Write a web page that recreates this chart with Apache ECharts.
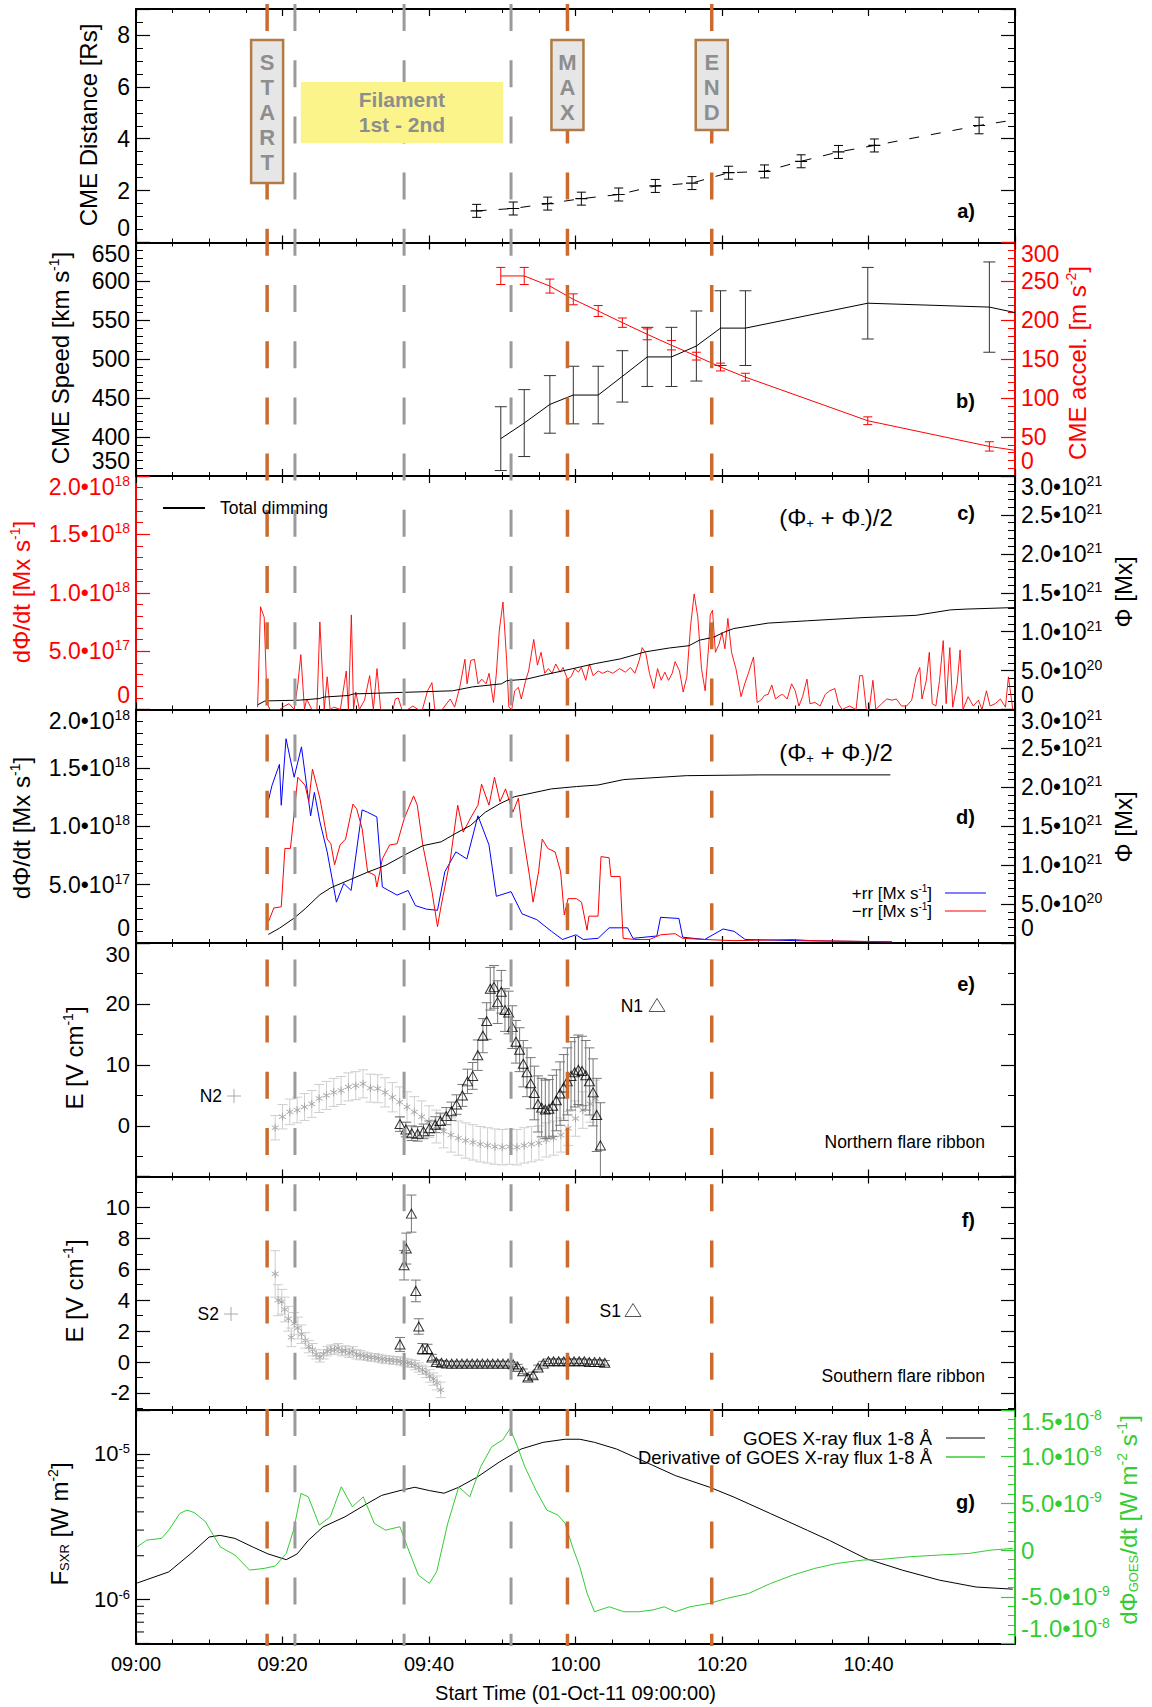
<!DOCTYPE html>
<html>
<head>
<meta charset="utf-8">
<script src="https://cdn.jsdelivr.net/npm/echarts@6/dist/echarts.min.js"></script>
<style>
  html, body { margin: 0; padding: 0; background: #fff; }
  #main { width: 1152px; height: 1707px; }
</style>
</head>
<body>
<div id="main"></div>
<script>
var FONT = '"Liberation Sans", Arial, Helvetica, sans-serif';
var RED = '#ff0000', BLUE = '#0000ff', GREEN = '#33cc33', ORANGE = '#cc6b2e', GREY = '#9a9a9a';

// time axis: minutes after 09:00
var eventT = [17.9, 21.7, 36.6, 51.2, 58.9, 78.6];
var eventKind = ['flare', 'fil', 'fil', 'fil', 'flare', 'flare'];
var flareBoxT = [17.9, 58.9, 78.6];
var flareBoxText = ['START', 'MAX', 'END'];
var filamentSpan = [22.5, 50.1];

// a) CME distance [t, Rs, err]
var distPts = [[46.5,1.22,0.25],[51.5,1.31,0.25],[56.2,1.50,0.25],[60.8,1.69,0.25],[65.9,1.85,0.25],[70.9,2.18,0.25],
  [75.9,2.29,0.25],[80.9,2.69,0.25],[85.8,2.74,0.25],[90.8,3.13,0.25],[95.9,3.49,0.25],[100.8,3.74,0.25],[115.1,4.51,0.32]];
var distTail = [119.8, 4.72];

// b) CME speed [t, km/s, err] and acceleration [t, m/s2, err]
var speedPts = [[49.8,398,41],[53.0,418,43],[56.5,442,37],[59.7,454,37],[63.1,454,37],[66.4,478,33],[69.8,503,38],
  [73.1,503,38],[76.5,517,45],[79.8,540,48],[83.2,540,48],[99.9,572,46],[116.5,567,58]];
var speedTail = [120, 560];
var accelPts = [[49.8,257,11],[53.0,257,11],[56.5,244,9],[59.7,227,7],[63.1,212,7],[66.4,197,6],[69.8,182,7],
  [73.1,168,6],[76.5,154,5],[79.8,140,5],[83.2,127,5],[99.9,71,5],[116.5,38,6]];
var accelTail = [120, 33];

// c) total dimming: flux rate [t, 1e18 Mx/s] and flux [t, 1e21 Mx]
var cRate = [[16.6,0.02],[17.0,0.88],[17.5,0.79],[17.9,0.05],[18.3,0],[19.6,0],[20.3,0.03],[20.9,0.05],[21.6,0],[22.1,0.22],
  [22.5,0.47],[23.0,0],[23.3,0.09],[24.0,0],[24.7,0],[25.1,0.75],[25.7,0],[26.1,0.28],[26.5,0],[27.0,0.02],[27.9,0],
  [28.7,0.33],[29.0,0],[29.4,0.81],[29.7,0],[30.0,0.15],[30.5,0],[31.2,0.08],[31.9,0.29],[32.4,0],[32.9,0.35],[33.4,0],
  [35.1,0],[35.4,0.09],[35.8,0.1],[36.3,0],[37.1,0],[37.8,0.03],[38.5,0],[39.1,0],[39.8,0.16],[40.4,0.23],[40.8,0],
  [41.8,0],[42.9,0.09],[43.5,0.02],[44.2,0.19],[44.9,0.43],[45.2,0.22],[45.7,0.42],[46.2,0.43],[46.7,0.22],[47.2,0.26],
  [47.8,0.22],[48.2,0.31],[48.8,0.06],[49.2,0.31],[49.6,0.68],[50.1,0.92],[50.6,0.42],[50.9,0.02],[51.3,0],[51.7,0.16],
  [52.2,0.19],[52.6,0.09],[53.2,0.25],[53.6,0.33],[54.3,0.6],[54.8,0.38],[55.3,0.49],[55.8,0.31],[56.3,0.35],[56.8,0.31],
  [57.3,0.39],[57.9,0.32],[58.3,0.36],[58.9,0.26],[59.4,0.28],[59.9,0.35],[60.4,0.32],[60.8,0.36],[61.4,0.25],[61.9,0.39],
  [62.4,0.29],[63.1,0.33],[63.7,0.31],[64.4,0.33],[65.1,0.31],[66.0,0.35],[66.8,0.32],[67.5,0.36],[68.1,0.31],[68.7,0.42],
  [69.1,0.53],[69.6,0.48],[70.1,0.31],[70.7,0.18],[71.2,0.35],[71.7,0.25],[72.2,0.32],[72.7,0.25],[73.2,0.31],[73.6,0.41],
  [74.2,0.33],[74.7,0.15],[75.2,0.28],[75.7,0.71],[76.2,0.99],[76.7,0.79],[77.2,0.35],[77.7,0.16],[78.2,0.56],[78.4,0.81],
  [78.7,0.85],[79.1,0.49],[79.6,0.56],[80.0,0.66],[80.4,0.52],[80.8,0.78],[81.3,0.49],[81.9,0.35],[82.6,0.11],[83.1,0.22],
  [83.6,0.31],[84.3,0.45],[84.8,0.06],[85.3,0.08],[85.8,0.12],[86.3,0.13],[86.8,0.21],[87.3,0.09],[87.9,0.12],[88.3,0.13],
  [88.9,0.09],[89.5,0.22],[90.0,0.16],[90.5,0.03],[91.0,0.11],[91.6,0.26],[92.0,0.05],[92.7,0.06],[93.4,0.03],[94.1,0.13],
  [94.7,0.16],[95.4,0.18],[95.9,0.05],[96.4,0],[97.4,0.03],[98.3,0],[98.8,0.29],[99.2,0.29],[99.7,0],[100.1,0],[100.6,0.25],
  [101.0,0],[101.8,0.05],[102.5,0.09],[103.2,0.08],[103.8,0.09],[104.5,0.03],[105.2,0.03],[105.9,0.08],[106.5,0.28],
  [107.0,0.36],[107.3,0.09],[107.9,0.25],[108.3,0.49],[108.7,0.05],[109.2,0.03],[109.7,0.25],[110.2,0.59],[110.6,0.05],
  [111.1,0.53],[111.5,0.02],[112.1,0.22],[112.5,0.51],[112.9,0],[113.6,0.11],[114.3,0.03],[115.0,0.08],[115.5,0],
  [116.1,0.16],[116.6,0.03],[117.3,0.05],[118.0,0.09],[118.7,0.02],[119.1,0.28],[119.7,0]];
var cFlux = [[16.6,0.06],[17.6,0.11],[22.3,0.12],[25.0,0.14],[25.7,0.16],[29.0,0.18],[29.7,0.2],[36.4,0.22],[43.2,0.24],
  [45.9,0.29],[49.9,0.33],[50.6,0.37],[53.3,0.39],[56.0,0.45],[59.4,0.52],[62.7,0.59],[66.1,0.65],[69.5,0.74],[72.8,0.79],
  [75.5,0.82],[76.9,0.89],[78.9,0.93],[80.2,0.99],[81.6,1.04],[86.3,1.11],[91.7,1.14],[99.1,1.18],[106.5,1.21],
  [111.2,1.28],[113.3,1.29],[120,1.31]];

// d) reconnection rates [t, 1e18 Mx/s] and flux [t, 1e21 Mx]
var dPos = [[18.07,1.22],[18.57,1.35],[19.58,1.53],[19.83,1.18],[20.48,1.75],[21.59,1.42],[22.59,1.68],[23.84,1.09],
  [24.35,1.29],[25.10,1.04],[26.10,0.78],[27.36,0.35],[28.36,0.51],[29.37,0.45],[30.87,1.14],[31.62,1.12],[32.88,1.08],
  [33.63,0.48],[35.64,0.41],[37.14,0.45],[38.15,0.32],[39.65,0.29],[41.16,0.28],[42.16,0.61],[43.67,0.78],[45.17,0.72],
  [46.68,1.09],[48.19,0.84],[49.19,0.40],[51.20,0.44],[52.70,0.25],[54.71,0.20],[56.72,0.10],[58.22,0.03],[60.07,0.07],
  [61.07,0.03],[63.08,0.04],[64.59,0.13],[67.1,0.13],[67.85,0.04],[71.11,0.06],[71.61,0.22],[74.12,0.21],[74.63,0.05],
  [77.64,0.03],[80.15,0.12],[81.65,0.10],[83.16,0.03],[90.18,0.02],[103.2,0.01]];
var dNeg = [[18.07,0.18],[18.82,0.30],[19.83,0.31],[20.33,0.81],[21.08,0.81],[21.59,1.11],[22.09,1.42],[23.09,1.35],
  [23.59,1.21],[24.09,1.49],[25.10,1.24],[25.60,1.07],[26.10,0.89],[26.60,0.85],[27.11,0.67],[27.86,0.84],[28.61,0.89],
  [29.62,1.19],[30.12,1.15],[30.87,0.98],[31.62,0.61],[32.63,0.58],[32.88,0.48],[33.63,0.72],[34.63,0.84],[35.64,0.85],
  [36.64,1.07],[37.90,1.26],[38.40,1.18],[39.15,0.84],[40.41,0.44],[41.16,0.14],[41.66,0.32],[42.92,0.72],[43.92,1.18],
  [44.67,0.95],[45.67,1.07],[46.68,1.18],[47.18,1.36],[48.19,1.18],[48.94,1.42],[49.69,1.21],[50.45,1.32],[51.45,1.12],
  [52.20,1.24],[52.70,0.98],[53.71,0.58],[54.21,0.35],[54.96,0.61],[55.46,0.89],[56.22,0.81],[57.22,0.78],[57.97,0.61],
  [58.47,0.24],[58.98,0.38],[60.13,0.38],[60.82,0.35],[61.58,0.11],[61.83,0.23],[63.08,0.23],[63.48,0.74],[64.59,0.73],
  [64.84,0.57],[66.09,0.57],[66.5,0.04],[68.1,0.03],[70.1,0.03],[71.61,0.07],[73.6,0.08],[74.63,0.04],[77.64,0.03],
  [81.65,0.02],[89.7,0.03],[92.2,0.02],[103.2,0.01]];
var dFlux = [[18.07,0.11],[19.58,0.19],[21.59,0.32],[23.09,0.44],[25.10,0.62],[26.60,0.71],[29.11,0.81],[31.62,0.91],
  [34.13,1.0],[36.64,1.13],[39.15,1.25],[41.66,1.30],[43.67,1.41],[45.67,1.51],[47.68,1.68],[49.69,1.79],[51.70,1.88],
  [54.21,1.93],[56.72,1.98],[60.13,2.01],[63.08,2.03],[66.6,2.10],[75.13,2.15],[85.17,2.16],[102.98,2.16]];

// e) northern ribbon E field [t, V/cm, err]
var n1 = [[36.04,0.3,1.2],[36.84,-0.6,1.2],[37.64,-1.2,1.2],[38.45,-1.3,1.2],[39.25,-0.9,1.2],[40.05,-0.4,1.2],
  [40.85,0.2,1.3],[41.55,0.8,1.3],[42.35,1.6,1.4],[43.06,2.4,1.5],[43.76,3.5,1.6],[44.56,5.0,1.8],[45.26,7.3,2.0],
  [45.96,8.2,2.2],[46.66,11.6,2.5],[47.36,14.8,2.8],[47.87,17.2,3.0],[48.37,22.5,3.5],[48.87,22.8,3.5],[49.37,20.3,3.5],
  [49.87,22.0,3.5],[50.37,19.0,3.5],[50.87,18.6,3.5],[51.37,16.2,3.5],[51.87,13.8,3.5],[52.37,12.5,3.6],[52.87,10.2,3.8],
  [53.38,8.8,4.0],[53.88,7.0,4.2],[54.38,5.4,4.4],[54.88,3.6,4.6],[55.38,3.0,4.8],[55.88,2.7,4.8],[56.38,2.8,4.8],
  [56.88,3.3,5.0],[57.39,4.2,5.0],[57.89,5.3,5.2],[58.39,6.3,5.4],[58.89,7.3,5.5],[59.39,8.2,5.6],[59.89,8.8,5.7],
  [60.39,9.2,5.7],[60.89,9.0,5.7],[61.4,8.3,5.7],[61.9,7.3,5.5],[62.4,5.5,5.5],[62.9,1.8,6.0],[63.4,-3.2,7.0]];
var n2 = [[19.0,-0.3,2.0],[20.0,1.5,2.0],[21.0,2.3,2.1],[22.0,2.6,2.1],[23.0,3.1,2.2],[24.0,3.6,2.2],[25.0,4.5,2.3],
  [26.0,5.0,2.3],[27.0,5.5,2.3],[28.0,5.8,2.3],[29.0,6.4,2.3],[30.0,6.6,2.3],[31.0,6.9,2.3],[32.0,6.2,2.3],[33.0,6.1,2.3],
  [34.0,5.5,2.4],[35.0,4.7,2.4],[36.0,3.9,2.5],[37.0,3.1,2.5],[38.0,2.3,2.5],[39.0,1.5,2.6],[40.0,0.7,2.6],[41.0,-0.1,2.7],
  [42.0,-0.9,2.7],[43.0,-1.5,2.8],[44.0,-2.0,2.8],[45.0,-2.4,2.9],[46.0,-2.7,2.9],[47.0,-3.0,2.9],[48.0,-3.2,2.9],
  [49.0,-3.4,2.9],[50.0,-3.5,2.9],[51.0,-3.4,2.9],[52.0,-3.5,2.9],[53.0,-3.2,2.9],[54.0,-3.0,2.9],[55.0,-2.8,2.8],
  [56.0,-2.3,2.8],[57.0,-2.0,2.8],[58.0,-1.5,2.8],[59.0,-0.4,2.8],[60.0,1.2,2.9],[61.0,2.6,3.0],[62.0,3.6,3.0],[62.7,4.5,3.0]];

// f) southern ribbon E field [t, V/cm, err]
var s1 = [[36.04,1.14,0.45],[36.6,6.26,0.95],[36.9,7.34,1.0],[37.6,9.6,1.2],[38.2,4.6,0.7],[38.6,2.3,0.5],[39.1,0.85,0.35],
  [39.8,0.85,0.3],[40.4,0.3,0.2],[41.0,0.0,0.15],[41.7,-0.05,0.15],[42.4,-0.1,0.15],[43.1,-0.1,0.15],[43.8,-0.1,0.15],
  [44.5,-0.1,0.15],[45.2,-0.1,0.15],[45.9,-0.1,0.15],[46.6,-0.1,0.15],[47.3,-0.1,0.15],[48.0,-0.1,0.15],[48.7,-0.1,0.15],
  [49.4,-0.1,0.15],[50.1,-0.1,0.15],[50.8,-0.1,0.15],[51.5,-0.15,0.15],[52.1,-0.3,0.15],[52.8,-0.6,0.15],[53.5,-1.0,0.2],
  [54.2,-0.85,0.2],[54.9,-0.35,0.15],[55.6,-0.1,0.15],[56.3,0.05,0.15],[57.0,0.05,0.15],[57.7,0.05,0.15],[58.4,0.05,0.15],
  [59.1,0.05,0.15],[59.8,0.05,0.15],[60.5,0.05,0.15],[61.2,0.05,0.15],[61.9,0.0,0.15],[62.6,0.0,0.15],[63.3,0.0,0.15],
  [64.0,-0.05,0.15]];
var s2 = [[19.0,5.7,1.5],[19.4,4.0,1.0],[19.9,3.9,0.8],[20.3,3.4,0.8],[20.8,2.8,0.8],[21.2,1.6,0.6],[21.6,2.5,0.7],
  [22.1,2.2,0.7],[22.6,1.8,0.6],[23.1,1.4,0.5],[23.6,1.0,0.4],[24.1,0.8,0.4],[24.6,0.5,0.3],[25.1,0.3,0.3],[25.6,0.5,0.3],
  [26.1,0.7,0.3],[26.6,0.8,0.3],[27.1,0.8,0.3],[27.6,0.9,0.3],[28.1,0.7,0.3],[28.6,0.75,0.3],[29.1,0.6,0.3],[29.6,0.7,0.3],
  [30.1,0.5,0.3],[30.6,0.45,0.3],[31.1,0.4,0.25],[31.6,0.35,0.25],[32.1,0.3,0.25],[32.6,0.3,0.25],[33.1,0.25,0.25],
  [33.6,0.2,0.25],[34.1,0.15,0.25],[34.6,0.15,0.25],[35.1,0.1,0.25],[35.6,0.1,0.25],[36.1,0.05,0.25],[36.6,0.0,0.25],
  [37.1,-0.05,0.25],[37.6,-0.1,0.25],[38.1,-0.2,0.3],[38.6,-0.35,0.3],[39.1,-0.5,0.3],[39.6,-0.65,0.35],[40.1,-0.9,0.4],
  [40.6,-1.1,0.4],[41.1,-1.35,0.45],[41.6,-1.8,0.5]];

// g) GOES flux [t, W/m2] and derivative [t, 1e-9 W/m2/s]
var goesFlux = [[0.17,1.30e-6],[4.48,1.55e-6],[7.49,2.07e-6],[9.99,2.69e-6],[11.49,2.76e-6],[13.5,2.63e-6],[16.0,2.29e-6],
  [18.01,2.06e-6],[20.51,1.88e-6],[22.01,2.06e-6],[23.52,2.55e-6],[25.52,3.15e-6],[28.53,3.7e-6],[31.53,4.55e-6],
  [33.54,5.19e-6],[36.04,5.6e-6],[38.05,5.9e-6],[40.05,5.6e-6],[42.05,5.37e-6],[44.06,5.9e-6],[46.56,6.92e-6],
  [49.57,8.77e-6],[52.58,1.08e-5],[55.58,1.2e-5],[58.59,1.26e-5],[60.59,1.26e-5],[62.59,1.2e-5],[65.6,1.08e-5],
  [69.61,8.77e-6],[73.62,7.1e-6],[78.33,5.9e-6],[81.63,5.05e-6],[86.64,3.89e-6],[91.65,2.99e-6],[94.66,2.55e-6],
  [99.67,1.91e-6],[104.68,1.59e-6],[109.69,1.36e-6],[114.7,1.22e-6],[119.7,1.18e-6]];
var goesDeriv = [[0.17,0.35],[1.47,1.07],[3.47,1.25],[4.48,2.14],[5.98,3.92],[6.98,4.29],[7.99,4.0],[9.49,3.03],
  [11.49,0.35],[13.5,-0.53],[15.5,-2.14],[17.51,-1.96],[19.01,-1.7],[20.51,-0.36],[21.51,2.14],[22.52,6.07],[23.52,5.7],
  [25.02,2.68],[26.52,3.57],[28.03,6.78],[29.53,4.64],[31.03,5.7],[32.54,2.86],[34.04,2.14],[36.04,2.5],[37.04,0.35],
  [38.55,-2.68],[40.05,-3.57],[41.05,-2.3],[42.56,2.86],[44.06,6.78],[45.56,5.7],[47.06,8.93],[48.57,11.07],[50.07,11.8],
  [51.07,13.0],[52.08,11.07],[53.08,8.93],[54.58,6.43],[56.08,4.29],[57.59,3.75],[58.59,2.86],[59.59,0.35],[60.59,-1.8],
  [61.59,-4.64],[62.59,-6.6],[64.6,-6.07],[66.6,-6.6],[68.6,-6.6],[70.61,-6.4],[72.11,-6.07],[73.62,-6.6],[75.62,-6.07],
  [78.33,-5.7],[80.63,-5.18],[83.64,-4.64],[86.64,-3.57],[89.65,-2.68],[92.65,-1.96],[95.66,-1.43],[99.17,-1.07],
  [101.67,-1.0],[105.68,-0.71],[109.69,-0.53],[113.7,-0.36],[116.7,0.0],[119.7,0.18]];
var logMinorTicks = [6e-7, 7e-7, 8e-7, 9e-7, 2e-6, 3e-6, 4e-6, 5e-6, 6e-6, 7e-6, 8e-6, 9e-6];

// ---------------------------------------------------------------
var chart = echarts.init(document.getElementById('main'), null, { renderer: 'svg' });

var PANEL_H = 233.5;
function panelTop(i) { return 9 + i * PANEL_H; }

// label styles: plain, raised (bottom of panel) and lowered (top of panel)
function richFor(fs, color) {
  var sup = Math.round(fs * 0.6), up = Math.round(fs * 0.5);
  function st(size, pad) { return { fontSize: size, fontFamily: FONT, color: color, padding: pad }; }
  return {
    m: st(fs, [0, 0, 0, 0]),
    s: st(sup, [0, 0, up, 0]),
    mL: st(fs, [0, 0, 30, 0]),
    sL: st(sup, [0, 0, up + 30, 0]),
    mH: st(fs, [22, 0, 0, 0]),
    sH: st(sup, [22, 0, up, 0])
  };
}
function plainLabel(v, mode) { return '{m' + (mode || '') + '|' + v + '}'; }
function sciLabel(v, scale, mode) {
  mode = mode || '';
  if (Math.abs(v) < 1e-9) return '{m' + mode + '|0}';
  var real = v * scale;
  var e = Math.floor(Math.log10(Math.abs(real)) + 1e-9);
  var mant = real / Math.pow(10, e);
  return '{m' + mode + '|' + mant.toFixed(1) + '•10}{s' + mode + '|' + e + '}';
}
function edge(v, lo, hi) {
  if (Math.abs(v - lo) < 1e-9) return 'L';
  if (Math.abs(v - hi) < 1e-9) return 'H';
  return '';
}
function hhmm(v) {
  var h = 9 + Math.floor(v / 60), m = Math.round(v % 60);
  return (h < 10 ? '0' : '') + h + ':' + (m < 10 ? '0' : '') + m;
}

function xAx(i, pos, labels) {
  var ax = {
    type: 'value', gridIndex: i, position: pos, min: 0, max: 120, interval: 20,
    axisLine: { show: true, onZero: false, lineStyle: { color: '#000', width: 2 } },
    axisTick: { show: true, inside: true, length: 7, lineStyle: { color: '#000', width: 1.2 } },
    minorTick: { show: true, splitNumber: 4, length: 4, lineStyle: { color: '#000', width: 1 } },
    splitLine: { show: false },
    axisLabel: { show: false }
  };
  if (labels) {
    ax.axisLabel = {
      show: true, margin: 10, color: '#000', fontFamily: FONT, fontSize: 20,
      formatter: function (v) { return v < 119 ? hhmm(v) : ''; }
    };
    ax.name = 'Start Time (01-Oct-11 09:00:00)';
    ax.nameLocation = 'middle';
    ax.nameGap = 39;
    ax.nameTextStyle = { color: '#000', fontFamily: FONT, fontSize: 20 };
  }
  return ax;
}

function yAx(o) {
  var color = o.color || '#000';
  var fs = o.fs || 23;
  var ax = {
    type: o.log ? 'log' : 'value', gridIndex: o.grid, position: o.pos,
    min: o.min, max: o.max,
    axisLine: { show: true, onZero: false, lineStyle: { color: color, width: 2 } },
    axisTick: { show: true, inside: true, length: 14, lineStyle: { color: color, width: 1.2 } },
    minorTick: { show: !!o.minor, splitNumber: o.minor || 5, length: 7, lineStyle: { color: color, width: 1 } },
    splitLine: { show: false },
    axisLabel: { show: false }
  };
  if (o.log) ax.logBase = 10;
  if (o.interval != null) ax.interval = o.interval;
  if (o.fixI != null) { ax.minInterval = o.fixI; ax.maxInterval = o.fixI; ax.splitNumber = o.split; }
  if (o.fmt) {
    ax.axisLabel = { show: true, margin: 6, color: color, fontFamily: FONT, fontSize: fs, formatter: o.fmt, rich: richFor(fs, color) };
  }
  return ax;
}

var xAxes = [];
for (var i = 0; i < 7; i++) {
  xAxes.push(xAx(i, 'bottom', i === 6));
  xAxes.push(xAx(i, 'top', false));
}
xAxes.push({ type: 'value', gridIndex: 7, min: 0, max: 120, show: false });

var yAxes = [
  // a
  yAx({ grid: 0, pos: 'left', min: 0, max: 9, interval: 2, minor: 4,
    fmt: function (v) { return v > 8.5 ? '' : plainLabel(v, edge(v, 0, 9)); } }),
  yAx({ grid: 0, pos: 'right', min: 0, max: 9, interval: 2, minor: 4 }),
  // b
  yAx({ grid: 1, pos: 'left', min: 350, max: 650, interval: 50, minor: 5,
    fmt: function (v) { return plainLabel(v, edge(v, 350, 650)); } }),
  yAx({ grid: 1, pos: 'right', min: 0, max: 300, interval: 50, minor: 5, color: RED,
    fmt: function (v) { return plainLabel(v, edge(v, 0, 300)); } }),
  // c
  yAx({ grid: 2, pos: 'left', min: 0, max: 2, interval: 0.5, minor: 5, color: RED,
    fmt: function (v) { return sciLabel(v, 1e18, edge(v, 0, 2)); } }),
  yAx({ grid: 2, pos: 'right', min: 0, max: 3, interval: 0.5, minor: 5,
    fmt: function (v) { return sciLabel(v, 1e21, edge(v, 0, 3)); } }),
  // d
  yAx({ grid: 3, pos: 'left', min: 0, max: 2, interval: 0.5, minor: 5,
    fmt: function (v) { return sciLabel(v, 1e18, edge(v, 0, 2)); } }),
  yAx({ grid: 3, pos: 'right', min: 0, max: 3, interval: 0.5, minor: 5,
    fmt: function (v) { return sciLabel(v, 1e21, edge(v, 0, 3)); } }),
  // e
  yAx({ grid: 4, pos: 'left', min: -8.3, max: 30, fixI: 10, split: 4, minor: 2, fs: 22,
    fmt: function (v) { return Math.abs(v % 10) > 1e-6 ? '' : plainLabel(v, edge(v, -8.3, 30)); } }),
  yAx({ grid: 4, pos: 'right', min: -8.3, max: 30, fixI: 10, split: 4, minor: 2 }),
  // f
  yAx({ grid: 5, pos: 'left', min: -3.1, max: 12, fixI: 2, split: 8, minor: 2, fs: 22,
    fmt: function (v) { return Math.abs(v % 2) > 1e-6 ? '' : plainLabel(v, edge(v, -3.1, 12)); } }),
  yAx({ grid: 5, pos: 'right', min: -3.1, max: 12, fixI: 2, split: 8, minor: 2 }),
  // g
  yAx({ grid: 6, pos: 'left', log: true, min: 5e-7, max: 2e-5, fs: 22,
    fmt: function (v) {
      var l = Math.log10(v);
      if (Math.abs(l - Math.round(l)) > 1e-6) return '';
      return '{m|10}{s|' + Math.round(l) + '}';
    } }),
  yAx({ grid: 6, pos: 'right', min: -10, max: 15, interval: 5, minor: 5, color: GREEN, fs: 24,
    fmt: function (v) { return sciLabel(v, 1e-9, edge(v, -10, 15)); } }),
  // overlay for event lines
  { type: 'value', gridIndex: 7, min: 0, max: 1, show: false }
];

var grids = [];
for (var g = 0; g < 7; g++) grids.push({ left: 136, right: 137, top: panelTop(g), height: PANEL_H });
grids.push({ left: 136, right: 137, top: 4, height: 1642 });

function pairs(rows) { return rows.map(function (r) { return [r[0], r[1]]; }); }

function errBars(color, cap, opt) {
  opt = opt || {};
  return function (params, api) {
    var t = api.value(0), v = api.value(1), e = api.value(2);
    var hi = api.coord([t, v + e]), lo = api.coord([t, v - e]), mid = api.coord([t, v]);
    var st = { stroke: color, lineWidth: opt.lw || 1 };
    var ch = [
      { type: 'line', shape: { x1: hi[0], y1: hi[1], x2: lo[0], y2: lo[1] }, style: st },
      { type: 'line', shape: { x1: hi[0] - cap, y1: hi[1], x2: hi[0] + cap, y2: hi[1] }, style: st },
      { type: 'line', shape: { x1: lo[0] - cap, y1: lo[1], x2: lo[0] + cap, y2: lo[1] }, style: st }
    ];
    if (opt.plus) {
      ch.push({ type: 'line', shape: { x1: mid[0] - opt.plus, y1: mid[1], x2: mid[0] + opt.plus, y2: mid[1] },
        style: { stroke: opt.markColor || color, lineWidth: 1.2 } });
    }
    if (opt.star) {
      var r = opt.star, ss = { stroke: opt.markColor || color, lineWidth: 1 };
      for (var k = 0; k < 3; k++) {
        var a = Math.PI / 2 + k * Math.PI / 3;
        ch.push({ type: 'line', shape: { x1: mid[0] - r * Math.cos(a), y1: mid[1] - r * Math.sin(a),
          x2: mid[0] + r * Math.cos(a), y2: mid[1] + r * Math.sin(a) }, style: ss });
      }
    }
    return { type: 'group', children: ch };
  };
}

function lineSeries(xi, yi, data, color, width, extra) {
  var s = { type: 'line', xAxisIndex: xi, yAxisIndex: yi, data: data, symbol: 'none', silent: true,
    lineStyle: { color: color, width: width } };
  if (extra) for (var k in extra) s[k] = extra[k];
  return s;
}
function customSeries(xi, yi, data, render, z) {
  return { type: 'custom', xAxisIndex: xi, yAxisIndex: yi, data: data, renderItem: render,
    encode: { x: 0, y: 1 }, clip: true, silent: true, z: z || 2 };
}

var series = [];
// a
series.push(lineSeries(0, 0, pairs(distPts).concat([distTail]), '#000', 1, { lineStyle: { color: '#000', width: 1, type: [10, 12] } }));
series.push(customSeries(0, 0, distPts, errBars('#000', 4.5, { plus: 6 })));
// b
series.push(lineSeries(2, 2, pairs(speedPts).concat([speedTail]), '#000', 1));
series.push(customSeries(2, 2, speedPts, errBars('#333', 6)));
series.push(lineSeries(2, 3, pairs(accelPts).concat([accelTail]), RED, 1));
series.push(customSeries(2, 3, accelPts, errBars(RED, 4.5)));
// c
series.push(lineSeries(4, 4, cRate, RED, 0.9));
series.push(lineSeries(4, 5, cFlux, '#000', 1));
// d
series.push(lineSeries(6, 6, dPos, BLUE, 1));
series.push(lineSeries(6, 6, dNeg, RED, 1));
series.push(lineSeries(6, 7, dFlux, '#000', 1));
// e
series.push(customSeries(8, 8, n2, errBars('#cfcfcf', 5, { star: 4, markColor: '#a8a8a8' })));
series.push(customSeries(8, 8, n1, errBars('#777', 5)));
series.push({ type: 'scatter', xAxisIndex: 8, yAxisIndex: 8, data: pairs(n1), symbol: 'triangle', symbolSize: [10, 9],
  silent: true, z: 3, itemStyle: { color: 'rgba(255,255,255,0)', borderColor: '#000', borderWidth: 1 } });
// f
series.push(customSeries(10, 10, s2, errBars('#cfcfcf', 5, { star: 4, markColor: '#a8a8a8' })));
series.push(customSeries(10, 10, s1, errBars('#777', 5)));
series.push({ type: 'scatter', xAxisIndex: 10, yAxisIndex: 10, data: pairs(s1), symbol: 'triangle', symbolSize: [10, 9],
  silent: true, z: 3, itemStyle: { color: 'rgba(255,255,255,0)', borderColor: '#000', borderWidth: 1 } });
// g
series.push(customSeries(12, 12, logMinorTicks.map(function (v) { return [0, v]; }), function (params, api) {
  var p = api.coord([0, api.value(1)]);
  return { type: 'line', shape: { x1: p[0], y1: p[1], x2: p[0] + 8, y2: p[1] }, style: { stroke: '#000', lineWidth: 1 } };
}));
series.push(lineSeries(12, 12, goesFlux, '#000', 1));
series.push(lineSeries(12, 13, goesDeriv, GREEN, 1));
// event lines across all panels
eventT.forEach(function (t, k) {
  var flare = eventKind[k] === 'flare';
  series.push({ type: 'line', xAxisIndex: 14, yAxisIndex: 14, data: [[t, 1], [t, 0]], symbol: 'none', silent: true, z: 5,
    lineStyle: { color: flare ? ORANGE : GREY, width: flare ? 3.5 : 3, type: [27, 29.2] } });
});

chart.setOption({
  animation: false,
  backgroundColor: '#fff',
  grid: grids,
  xAxis: xAxes,
  yAxis: yAxes,
  series: series
});

// ---- annotations --------------------------------------------------
function px(t) { return chart.convertToPixel({ xAxisIndex: 0 }, t); }

var titleRich = function (color) {
  return {
    n: { fontSize: 24, fontFamily: FONT, fill: color, color: color },
    sup: { fontSize: 14, fontFamily: FONT, fill: color, color: color, padding: [0, 0, 13, 0] },
    sub: { fontSize: 13, fontFamily: FONT, fill: color, color: color, padding: [11, 0, 0, 0] }
  };
};
function vText(text, x, y, color) {
  return { type: 'text', x: x, y: y, rotation: Math.PI / 2, z: 20,
    style: { text: text, rich: titleRich(color), fill: color, font: '24px ' + FONT,
      align: 'center', verticalAlign: 'middle', textAlign: 'center', textVerticalAlign: 'middle' } };
}
function hText(text, x, y, size, align, opts) {
  opts = opts || {};
  var color = opts.color || '#000';
  return { type: 'text', x: x, y: y, z: 20,
    style: { text: text, rich: opts.rich, fill: color,
      font: (opts.bold ? 'bold ' : '') + size + 'px ' + FONT,
      align: align, verticalAlign: 'middle', textAlign: align, textVerticalAlign: 'middle' } };
}
function hLine(x1, x2, y, color, w) {
  return { type: 'line', z: 20, shape: { x1: x1, y1: y, x2: x2, y2: y }, style: { stroke: color, lineWidth: w || 1.2 } };
}
function triangle(x, y, w, h, color) {
  return { type: 'polygon', z: 20, shape: { points: [[x - w / 2, y + h / 2], [x + w / 2, y + h / 2], [x, y - h / 2]] },
    style: { fill: 'none', stroke: color, lineWidth: 1 } };
}
function plusMark(x, y, r, color) {
  return { type: 'group', z: 20, children: [
    { type: 'line', shape: { x1: x - r, y1: y, x2: x + r, y2: y }, style: { stroke: color, lineWidth: 1 } },
    { type: 'line', shape: { x1: x, y1: y - r, x2: x, y2: y + r }, style: { stroke: color, lineWidth: 1 } }
  ] };
}

var gfx = [];
// flare phase boxes
flareBoxT.forEach(function (t, k) {
  var word = flareBoxText[k];
  var cx = px(t);
  var h = word.length === 5 ? 143 : 90;
  gfx.push({ type: 'rect', z: 30, shape: { x: cx - 16, y: 40, width: 32, height: h },
    style: { fill: '#e6e6e6', stroke: '#b27a44', lineWidth: 2.5 } });
  for (var c = 0; c < word.length; c++) {
    gfx.push({ type: 'text', z: 31, x: cx, y: 62 + c * 25,
      style: { text: word[c], font: 'bold 22px ' + FONT, fill: '#8e8e8e', align: 'center', verticalAlign: 'middle',
        textAlign: 'center', textVerticalAlign: 'middle' } });
  }
});
var fx0 = px(filamentSpan[0]), fx1 = px(filamentSpan[1]);
gfx.push({ type: 'rect', z: 30, shape: { x: fx0, y: 82, width: fx1 - fx0, height: 61 }, style: { fill: '#fbf48b' } });
gfx.push({ type: 'text', z: 31, x: (fx0 + fx1) / 2, y: 99, style: { text: 'Filament', font: 'bold 21px ' + FONT,
  fill: '#8e8e8e', align: 'center', verticalAlign: 'middle', textAlign: 'center', textVerticalAlign: 'middle' } });
gfx.push({ type: 'text', z: 31, x: (fx0 + fx1) / 2, y: 124, style: { text: '1st - 2nd', font: 'bold 21px ' + FONT,
  fill: '#8e8e8e', align: 'center', verticalAlign: 'middle', textAlign: 'center', textVerticalAlign: 'middle' } });

// axis titles
gfx.push(vText('{n|CME Distance [Rs]}', 88, 125, '#000'));
gfx.push(vText('{n|CME Speed [km s}{sup|-1}{n|]}', 60, 358, '#000'));
gfx.push(vText('{n|CME accel. [m s}{sup|-2}{n|]}', 1077, 363, RED));
gfx.push(vText('{n|dΦ/dt [Mx s}{sup|-1}{n|]}', 21, 592, RED));
gfx.push(vText('{n|Φ [Mx]}', 1123, 592, '#000'));
gfx.push(vText('{n|dΦ/dt [Mx s}{sup|-1}{n|]}', 21, 828, '#000'));
gfx.push(vText('{n|Φ [Mx]}', 1123, 827, '#000'));
gfx.push(vText('{n|E [V cm}{sup|-1}{n|]}', 74, 1058, '#000'));
gfx.push(vText('{n|E [V cm}{sup|-1}{n|]}', 74, 1291, '#000'));
gfx.push(vText('{n|F}{sub|SXR}{n| [W m}{sup|-2}{n|]}', 59, 1524, '#000'));
gfx.push(vText('{n|dΦ}{sub|GOES}{n|/dt [W m}{sup|-2}{n| s}{sup|-1}{n|]}', 1128, 1520, GREEN));

// panel letters
var letters = ['a)', 'b)', 'c)', 'd)', 'e)', 'f)', 'g)'];
var letterY = [211, 401, 513, 817, 984, 1220, 1502];
letters.forEach(function (l, k) { gfx.push(hText(l, 975, letterY[k], 20, 'right', { bold: true })); });

// in-panel texts
var phiRich = { n: { fontSize: 24, fontFamily: FONT, fill: '#000' }, sub: { fontSize: 13, fontFamily: FONT, fill: '#000', padding: [12, 0, 0, 0] } };
gfx.push(hText('{n|(Φ}{sub|+}{n| + Φ}{sub|-}{n|)/2}', 836, 517, 24, 'center', { rich: phiRich }));
gfx.push(hText('{n|(Φ}{sub|+}{n| + Φ}{sub|-}{n|)/2}', 836, 752, 24, 'center', { rich: phiRich }));

gfx.push(hLine(163, 205, 508, '#000', 2));
gfx.push(hText('Total dimming', 220, 508, 17.5, 'left'));

var legRich = { n: { fontSize: 17, fontFamily: FONT, fill: '#000' }, sup: { fontSize: 10, fontFamily: FONT, fill: '#000', padding: [0, 0, 9, 0] } };
gfx.push(hText('{n|+rr [Mx s}{sup|-1}{n|]}', 932, 893, 17, 'right', { rich: legRich }));
gfx.push(hText('{n|−rr [Mx s}{sup|-1}{n|]}', 932, 911, 17, 'right', { rich: legRich }));
gfx.push(hLine(945, 986, 893, BLUE, 1.2));
gfx.push(hLine(945, 986, 911, RED, 1.2));

gfx.push(hText('N1', 643, 1006, 17.5, 'right'));
gfx.push(triangle(657, 1005, 16, 13, '#555'));
gfx.push(hText('N2', 222, 1096, 17.5, 'right'));
gfx.push(plusMark(234, 1096, 7, '#aaa'));
gfx.push(hText('Northern flare ribbon', 985, 1142, 17.5, 'right'));

gfx.push(hText('S1', 621, 1311, 17.5, 'right'));
gfx.push(triangle(633, 1310, 16, 13, '#555'));
gfx.push(hText('S2', 219, 1314, 17.5, 'right'));
gfx.push(plusMark(231, 1314, 7, '#aaa'));
gfx.push(hText('Southern flare ribbon', 985, 1376, 17.5, 'right'));

gfx.push(hText('GOES X-ray flux 1-8 Å', 932, 1438, 18.8, 'right'));
gfx.push(hText('Derivative of GOES X-ray flux 1-8 Å', 932, 1457, 18.5, 'right'));
gfx.push(hLine(946, 985, 1438, '#555', 1.5));
gfx.push(hLine(946, 985, 1457, GREEN, 1.5));

chart.setOption({ graphic: { elements: gfx } });
</script>
</body>
</html>
